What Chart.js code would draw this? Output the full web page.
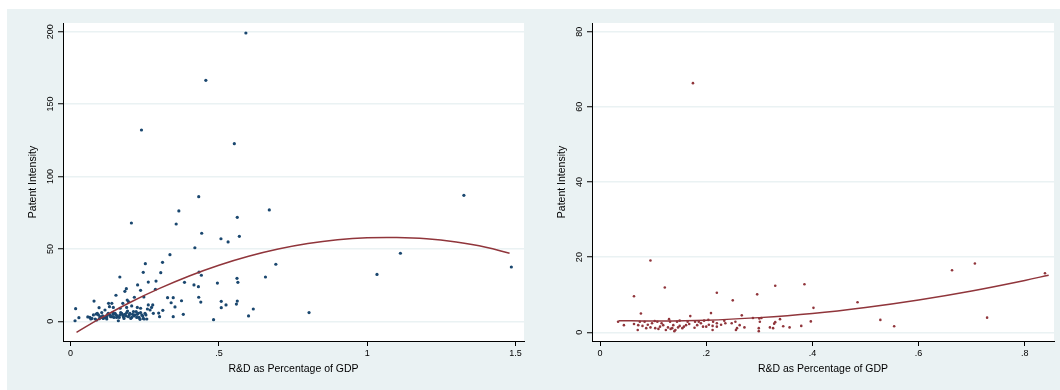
<!DOCTYPE html>
<html>
<head>
<meta charset="utf-8">
<script src="https://cdn.jsdelivr.net/npm/chart.js@4.4.1/dist/chart.umd.min.js"></script>
<style>
  body { margin:0; background:#fff; width:1060px; height:390px; overflow:hidden; position:relative; }
  #panel { position:absolute; left:7px; top:9px; right:0; bottom:0; background:#eaf2f3; }
  canvas { position:absolute; top:0; }
  #left { left:0; }
  #right { left:529px; }
</style>
</head>
<body>
<div id="panel"></div>
<canvas id="left" width="530" height="390"></canvas>
<canvas id="right" width="531" height="390"></canvas>
<script>
// values

// left panel
var leftRD = [0.591,0.456,0.239,0.552,0.432,1.326,0.365,0.670,0.562,0.205,0.356,0.442,0.569,0.507,0.531,0.419,1.112,0.335,0.310,0.252,
  0.692,1.486,0.245,0.304,0.433,1.033,0.441,0.166,0.657,0.561,0.564,0.495,0.384,0.262,0.288,0.226,0.416,0.431,0.188,0.236,
  0.183,0.286,0.327,0.346,0.432,0.215,0.247,0.153,0.374,0.508,0.562,0.339,0.439,0.524,0.559,0.508,0.352,0.616,0.311,0.804,
  0.297,0.380,0.300,0.346,0.600,0.482,
  0.017,0.015,0.028,0.079,0.058,0.065,0.072,0.083,0.088,0.096,0.077,0.068,0.086,0.090,0.094,0.099,0.105,0.097,0.110,0.105,
  0.108,0.116,0.116,0.122,0.122,0.124,0.127,0.131,0.128,0.133,0.135,0.139,0.139,0.142,0.144,0.144,0.146,0.150,0.153,0.155,
  0.158,0.161,0.164,0.167,0.167,0.169,0.172,0.176,0.176,0.178,0.180,0.183,0.187,0.189,0.189,0.191,0.192,0.195,0.195,0.198,
  0.200,0.203,0.206,0.206,0.209,0.212,0.214,0.217,0.221,0.223,0.225,0.225,0.228,0.231,0.234,0.236,0.236,0.240,0.243,0.245,
  0.248,0.251,0.254,0.257,0.259,0.262,0.268,0.273,0.277,0.279]
var leftPatents = [199.1,166.4,132.1,122.7,86.1,87.0,76.2,76.9,71.8,67.9,67.2,60.8,58.7,57.0,54.8,50.8,47.0,46.0,40.7,39.8,
  39.4,37.5,33.8,33.6,34.0,32.4,31.8,30.6,30.6,29.7,26.9,26.4,26.9,27.1,27.8,25.1,25.1,23.9,22.5,21.4,
  20.7,22.1,16.3,16.3,16.6,16.6,16.8,18.0,14.2,13.8,14.0,12.8,13.3,11.3,11.9,9.4,9.9,8.5,7.6,6.0,
  5.7,4.8,3.2,3.2,3.7,1.1,
  8.7,0.4,2.5,14.0,3.0,2.7,2.0,1.6,0.9,9.4,4.4,1.6,5.0,5.5,4.4,3.2,2.7,1.8,2.0,6.0,
  3.7,2.5,7.8,3.2,1.6,4.4,5.5,10.1,12.4,4.4,3.2,3.2,12.4,6.0,4.8,9.6,2.7,5.5,4.4,2.7,
  3.7,0.4,2.7,4.4,9.0,6.0,5.5,4.4,12.4,3.2,2.0,4.8,3.7,6.0,9.6,14.7,7.1,3.2,13.6,4.4,
  5.5,2.0,2.7,10.6,4.8,6.7,3.7,4.4,6.7,2.7,4.8,9.6,5.5,2.7,1.4,6.0,9.0,4.4,3.7,2.0,
  1.6,5.5,4.4,1.6,8.5,11.3,7.8,9.6,11.3,5.5]
var leftFitRD = [0.02,0.1,0.2,0.3,0.4,0.5,0.6,0.7,0.8,0.9,1.0,1.1,1.2,1.3,1.4,1.48]
var leftFitY = [-7.6,2.0,13.0,22.7,31.3,38.7,44.9,49.9,53.7,56.3,57.7,57.9,57.0,54.7,51.2,47.0]
var leftXTicks = [0, 0.5, 1, 1.5]
var leftXLabels = ['0', '.5', '1', '1.5']
var leftYTicks = [0, 50, 100, 150, 200]
var leftYLabels = ['0', '50', '100', '150', '200']

// right panel
var rightRD = [0.175,0.095,0.122,0.064,0.077,0.220,0.250,0.296,0.330,0.385,0.402,0.485,0.528,0.554,0.663,0.706,0.729,0.838,
  0.397,0.379,0.357,0.345,0.339,0.330,0.328,0.320,0.326,0.301,0.300,0.304,0.288,0.299,0.299,0.272,0.267,0.263,0.258,0.256,
  0.255,0.248,0.236,0.234,0.220,0.220,0.213,0.212,0.212,0.209,0.204,0.200,0.194,0.196,0.186,0.183,0.179,0.178,0.170,0.165,
  0.162,0.158,0.155,0.150,0.150,0.145,0.142,0.140,0.136,0.132,0.130,0.128,0.124,0.119,0.116,0.113,0.108,0.104,0.098,0.095,
  0.087,0.084,0.080,0.075,0.072,0.071,0.064,0.045,0.034,
  0.090,0.110,0.138,0.147,0.168,0.190,0.205,0.228,0.133,0.103]
var rightPatents = [66.3,19.1,11.9,9.6,5.0,10.5,8.5,10.1,12.4,12.8,6.5,8.0,3.3,1.6,16.5,18.3,3.9,15.7,
  2.9,1.7,1.3,1.6,3.5,2.7,2.3,1.3,1.1,2.8,3.7,3.8,3.8,1.1,0.3,1.3,4.5,1.9,1.1,0.6,
  2.8,2.4,2.4,3.1,2.4,1.5,2.8,1.7,0.6,5.1,3.3,1.5,1.5,3.1,2.8,1.9,2.8,1.2,4.3,2.8,
  1.9,1.5,1.1,3.1,1.7,2.8,0.6,0.3,1.1,2.8,3.5,1.3,0.6,1.9,2.4,1.5,2.8,1.1,2.4,1.3,
  1.1,2.8,1.7,2.8,1.9,0.6,2.2,1.9,2.8,
  2.0,0.9,1.9,1.3,2.2,2.4,2.0,2.0,0.9,3.0]
var rightFitRD = [0.035,0.1,0.2,0.3,0.4,0.5,0.6,0.7,0.8,0.845]
var rightFitY = [3.1,3.0,3.2,3.9,5.0,6.6,8.6,11.0,13.8,15.2]
var rightXTicks = [0, 0.2, 0.4, 0.6, 0.8]
var rightXLabels = ['0', '.2', '.4', '.6', '.8']
var rightYTicks = [0, 20, 40, 60, 80]
var rightYLabels = ['0', '20', '40', '60', '80']

var navy = '#1a476f'
var maroon = '#90353b'
var bgblue = '#eaf2f3'

Chart.defaults.font.family = '"Liberation Sans", Arial, Helvetica, sans-serif'
Chart.defaults.color = '#000'

function pairs(xs, ys) {
  return xs.map(function (x, i) { return {x: x, y: ys[i]} })
}

// white plot region on the blue-grey panel
var plotBg = {
  id: 'plotBg',
  beforeDraw: function (chart) {
    var a = chart.chartArea
    chart.ctx.save()
    chart.ctx.fillStyle = '#fff'
    chart.ctx.fillRect(a.left, a.top, a.right - a.left, a.bottom - a.top)
    chart.ctx.restore()
  }
}

function makeChart(id, s) {
  return new Chart(document.getElementById(id), {
    type: 'scatter',
    data: {
      datasets: [
        {
          label: 'fit',
          data: pairs(s.fitX, s.fitY),
          showLine: true,
          pointRadius: 0,
          borderColor: maroon,
          borderWidth: 1.5,
          tension: 0.4
        },
        {
          label: 'obs',
          data: pairs(s.x, s.y),
          pointRadius: s.dot,
          pointBorderWidth: 0,
          backgroundColor: s.color,
          borderColor: s.color
        }
      ]
    },
    options: {
      responsive: false,
      animation: false,
      devicePixelRatio: 1,
      layout: { padding: { top: 23, right: 6, left: 0, bottom: 0 } },
      plugins: { legend: { display: false }, tooltip: { enabled: false } },
      scales: {
        x: {
          type: 'linear',
          min: s.xmin, max: s.xmax,
          afterBuildTicks: function (sc) { sc.ticks = s.xTicks.map(function (v) { return {value: v} }) },
          afterFit: function (sc) { sc.height = 49 },
          ticks: {
            autoSkip: false, maxRotation: 0, padding: 2,
            font: { size: 9 },
            callback: function (v, i) { return s.xLabels[i] }
          },
          grid: { drawOnChartArea: false, tickLength: 5, tickColor: '#000', tickWidth: 1 },
          border: { color: '#000', width: 1 },
          title: { display: true, text: 'R&D as Percentage of GDP', font: { size: 10.5 }, padding: { top: 0, bottom: 15 } }
        },
        y: {
          min: s.ymin, max: s.ymax,
          afterBuildTicks: function (sc) { sc.ticks = s.yTicks.map(function (v) { return {value: v} }) },
          afterFit: function (sc) { sc.width = 63 },
          ticks: {
            autoSkip: false, minRotation: 90, maxRotation: 90, crossAlign: 'center', padding: s.ypad,
            font: { size: 9 },
            callback: function (v, i) { return s.yLabels[i] }
          },
          grid: { color: bgblue, lineWidth: 1.5, tickLength: 5, tickColor: '#000', tickWidth: 1 },
          border: { color: '#000', width: 1 },
          title: { display: true, text: 'Patent Intensity', font: { size: 10.5 }, padding: { top: 27, bottom: 0 } }
        }
      }
    },
    plugins: [plotBg]
  })
}

makeChart('left', {
  x: leftRD, y: leftPatents, fitX: leftFitRD, fitY: leftFitY,
  xTicks: leftXTicks, xLabels: leftXLabels, yTicks: leftYTicks, yLabels: leftYLabels,
  xmin: -0.0256, xmax: 1.5287, ymin: -13.6, ymax: 206,
  color: navy, dot: 1.6, ypad: 0
})

makeChart('right', {
  x: rightRD, y: rightPatents, fitX: rightFitRD, fitY: rightFitY,
  xTicks: rightXTicks, xLabels: rightXLabels, yTicks: rightYTicks, yLabels: rightYLabels,
  xmin: -0.0151, xmax: 0.855, ymin: -2.32, ymax: 82.3,
  color: maroon, dot: 1.3, ypad: 2
})
</script>
</body>
</html>
